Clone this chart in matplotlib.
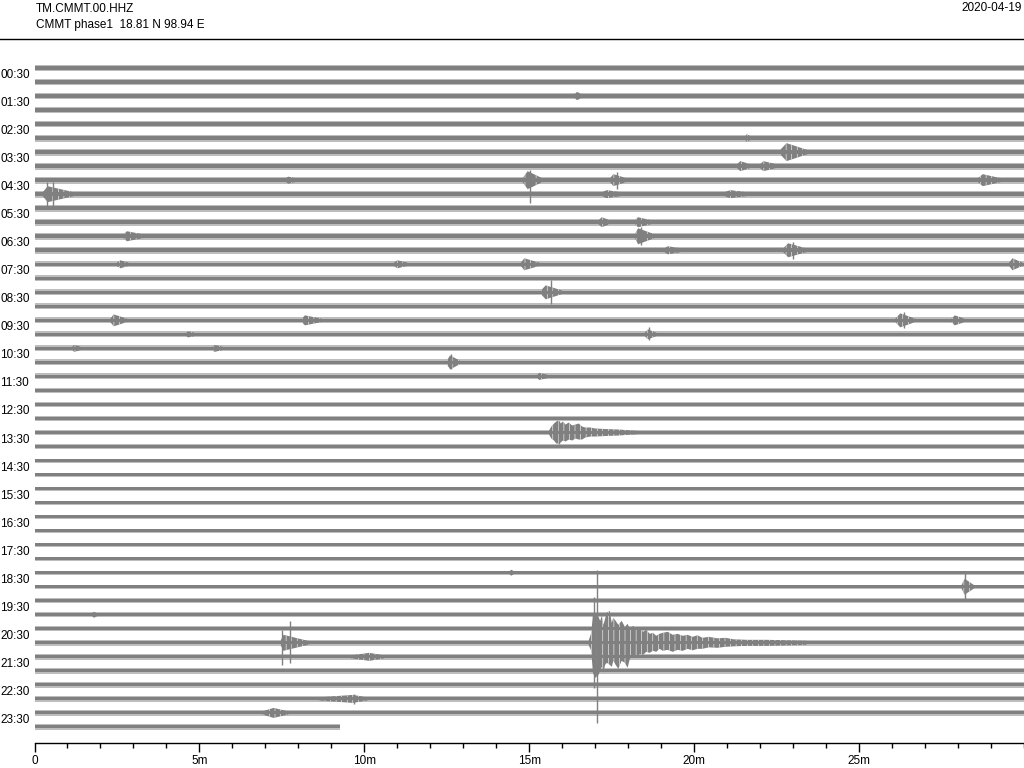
import matplotlib
matplotlib.use('Agg')
import matplotlib.pyplot as plt
from matplotlib.lines import Line2D
from matplotlib.ticker import MultipleLocator
from matplotlib.transforms import blended_transform_factory

# Station / header text
STATION = 'TM.CMMT.00.HHZ'
SUBTITLE = 'CMMT phase1  18.81 N 98.94 E'
DATE = '2020-04-19'

N_ROWS = 48                      # one line per 30 minutes
LAST_ROW_END = 9.25              # minutes of data on the 23:30 line
ROW_LABELS = ['%02d:30' % h for h in range(24)]   # drawn on odd rows

# per-row noise band: solid core and fuzzy halo (half widths, pixels)
CORE = [1.9] * 14 + [1.7] * 9 + [1.5] * 5 + [1.3] * 10 + [1.4] * 3 + [1.5] * 7
FUZZ = [3.4] * 14 + [3.0] * 9 + [2.5] * 5 + [2.0] * 10 + [2.5] * 3 + [2.9] * 7

# small events: (row, start min, peak min, end min, peak half amplitude px)
EVENTS = [
    (2, 16.35, 16.45, 16.6, 4),
    (5, 21.55, 21.6, 21.7, 4),
    (6, 22.6, 22.8, 23.45, 9),
    (7, 21.3, 21.4, 21.7, 5),
    (7, 22.0, 22.1, 22.5, 5),
    (8, 7.6, 7.7, 7.9, 3.5),
    (8, 14.8, 14.95, 15.4, 9),
    (8, 17.45, 17.55, 17.95, 6),
    (8, 28.6, 28.75, 29.3, 6),
    (9, 0.25, 0.4, 1.2, 8),
    (9, 17.2, 17.35, 17.8, 4),
    (9, 20.9, 21.1, 21.6, 4),
    (11, 17.1, 17.2, 17.45, 5),
    (11, 18.2, 18.3, 18.7, 5),
    (12, 2.7, 2.8, 3.3, 5),
    (12, 18.2, 18.3, 18.8, 8),
    (13, 19.1, 19.2, 19.6, 4),
    (13, 22.7, 22.85, 23.4, 7),
    (14, 2.5, 2.6, 2.85, 4),
    (14, 10.9, 11.0, 11.3, 4),
    (14, 14.75, 14.85, 15.3, 6),
    (14, 29.55, 29.65, 29.95, 6),
    (16, 15.35, 15.5, 16.0, 7),
    (18, 2.3, 2.4, 2.8, 6),
    (18, 8.1, 8.2, 8.7, 5),
    (18, 26.1, 26.25, 26.7, 7),
    (18, 27.8, 27.9, 28.2, 5),
    (19, 4.6, 4.65, 4.85, 3),
    (19, 18.5, 18.6, 18.85, 5),
    (20, 1.15, 1.2, 1.4, 3.5),
    (20, 5.4, 5.45, 5.7, 3.5),
    (21, 12.5, 12.6, 12.9, 7),
    (22, 15.25, 15.3, 15.55, 3.5),
    (36, 14.4, 14.45, 14.55, 3),
    (37, 28.1, 28.2, 28.5, 8),
    (39, 1.75, 1.8, 1.9, 3),
    (41, 7.45, 7.55, 8.35, 8),
    (42, 9.6, 10.15, 10.6, 4),
    (45, 8.6, 9.65, 10.1, 4),
    (46, 6.9, 7.25, 7.7, 5),
]

# single large swings: (row, minute, up px, down px)
SPIKES = [
    (8, 15.02, 10, 23),
    (8, 17.65, 8, 9),
    (9, 0.37, 12, 12),
    (9, 0.57, 12, 12),
    (12, 18.4, 9, 9),
    (13, 23.0, 8, 9),
    (16, 15.65, 12, 12),
    (18, 26.35, 8, 8),
    (19, 18.62, 7, 6),
    (21, 12.62, 8, 7),
    (37, 28.22, 15, 12),
    (41, 7.51, 13, 22),
    (41, 7.74, 22, 20),
    (45, 9.7, 5, 5),
    (26, 15.89, 12, 11.5),
    (41, 16.97, 46, 45),
    (41, 17.05, 73, 80),
]

# regional event on the 13:00 line
Q1_ROW = 26
Q1_T = [15.60, 15.67, 15.75, 15.82, 15.89, 15.95, 16.02, 16.10, 16.20, 16.30,
        16.40, 16.50, 16.60, 16.70, 16.85, 17.0, 17.3, 17.7, 18.3]
Q1_UP = [2, 6, 9, 11, 12, 9, 11, 8, 10, 7, 8, 9, 6, 5, 5, 4, 3.5, 3, 1.6]
Q1_DN = [2, 6, 8, 11, 11, 10, 8, 9, 7, 8, 6, 7, 7, 5, 4, 4, 3.5, 3, 1.6]

# large event on the 20:30 line
Q2_ROW = 41
Q2_T = [16.80, 16.88, 16.93, 17.00, 17.10, 17.15, 17.20, 17.25, 17.30, 17.35,
        17.44, 17.50, 17.55, 17.62, 17.70, 17.80, 17.90, 17.98, 18.05, 18.15,
        18.25, 18.35, 18.45, 18.55, 18.65, 18.75, 18.85, 18.95, 19.05, 19.2,
        19.35, 19.5, 19.65, 19.8, 19.95, 20.1, 20.25, 20.45, 20.7, 20.95,
        21.2, 21.6, 22.2, 22.8, 23.4]
Q2_UP = [2, 10, 28, 30, 26, 22, 27, 18, 24, 30,
         32, 20, 25, 22, 18, 22, 16, 19, 14, 17,
         12, 15, 11, 13, 9, 10, 7, 9, 10, 11,
         8, 9, 7, 8, 6, 7.5, 5, 6, 4.5, 5,
         3.5, 3, 3, 2.5, 2]
Q2_DN = [2, 8, 30, 35, 32, 28, 24, 30, 22, 20,
         22, 24, 18, 22, 26, 18, 20, 25, 16, 14,
         15, 11, 12, 9, 10, 8, 9, 6, 8, 7,
         9, 7, 8, 6, 7.5, 6, 6, 4.5, 5, 4,
         3.5, 3, 3, 2.5, 2]

GRAY = '#808080'
HALO = '#bdbdbd'
PX = 14.02          # pixels between two lines

plt.rcParams['font.family'] = ['Liberation Sans', 'DejaVu Sans']
plt.rcParams['hatch.color'] = 'white'
plt.rcParams['hatch.linewidth'] = 0.4

fig = plt.figure(figsize=(10.24, 7.68), dpi=100)
ax = fig.add_axes([34.5 / 1024, 25 / 768, 989.5 / 1024, 703 / 768])
ax.set_xlim(0, 30)
ax.set_ylim((743 - 68) / PX, (40 - 68) / PX)

for r in range(N_ROWS):
    end = LAST_ROW_END if r == N_ROWS - 1 else 30
    f = FUZZ[r] / PX
    ax.fill_between([0, end], r - f, r + f, color=HALO, lw=0)

# bursts are drawn with thin white vertical hatching to look like wiggles
for r, t0, tp, t1, amp in EVENTS:
    base = CORE[r]
    ys = [base, amp, base]
    ax.fill_between([t0, tp, t1], [r - v / PX for v in ys], [r + v / PX for v in ys],
                    facecolor=GRAY, edgecolor='white', lw=0, hatch='|||')

for row, ts, up, dn in [(Q1_ROW, Q1_T, Q1_UP, Q1_DN), (Q2_ROW, Q2_T, Q2_UP, Q2_DN)]:
    ax.fill_between(ts, [row - v / PX for v in up], [row + v / PX for v in dn],
                    facecolor=GRAY, edgecolor='white', lw=0, hatch='|||')

# solid core of every line on top, so the line stays continuous
for r in range(N_ROWS):
    end = LAST_ROW_END if r == N_ROWS - 1 else 30
    c = CORE[r] / PX
    ax.fill_between([0, end], r - c, r + c, color=GRAY, lw=0)

for r, t, up, dn in SPIKES:
    ax.vlines(t, r - up / PX, r + dn / PX, color=GRAY, lw=1.0)

# hour labels sit just above the odd rows
lab_tr = blended_transform_factory(fig.transFigure, ax.transData)
for h, lab in enumerate(ROW_LABELS):
    ax.text(0.5 / 1024, 2 * h + 1 - 0.5, lab, transform=lab_tr, ha='left', va='center',
            fontsize=8.5, color='black')

ax.set_xticks([0, 5, 10, 15, 20, 25])
ax.set_xticklabels(['0', '5m', '10m', '15m', '20m', '25m'])
ax.xaxis.set_minor_locator(MultipleLocator(1))
ax.tick_params(axis='x', which='major', length=6.5, width=1, labelsize=8.5, pad=2)
ax.tick_params(axis='x', which='minor', length=3.6, width=1)
ax.set_yticks([])
for s in ['left', 'right', 'top']:
    ax.spines[s].set_visible(False)
ax.spines['bottom'].set_linewidth(1)

fig.text(36 / 1024, 1 - 8.5 / 768, STATION, ha='left', va='center', fontsize=8.5)
fig.text(36 / 1024, 1 - 25 / 768, SUBTITLE, ha='left', va='center', fontsize=8.5)
fig.text(1022 / 1024, 1 - 8 / 768, DATE, ha='right', va='center', fontsize=8.5)
fig.add_artist(Line2D([0, 1], [1 - 39 / 768] * 2, color='black', lw=1.0))

fig.savefig('out.png', dpi=100)
